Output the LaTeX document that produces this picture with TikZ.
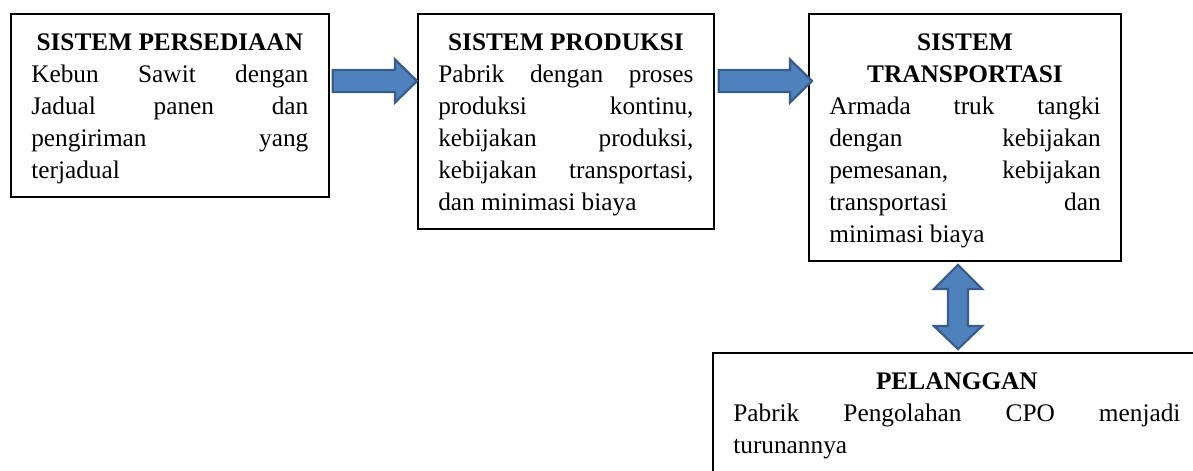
\documentclass[tikz,border=0pt]{standalone}
\usepackage{fontspec}
\setmainfont{Liberation Serif}
\usepackage{xcolor}
\usetikzlibrary{calc}

\definecolor{arrfill}{RGB}{79,129,189}
\definecolor{arrline}{RGB}{56,93,138}
\setlength{\parindent}{0pt}

\newcommand{\hd}[1]{{\centering\bfseries\rule{0pt}{17pt}#1\par}}

\tikzset{
    sysbox/.style={draw, line width=1.3pt, anchor=north west, align=justify,
        inner xsep=14.5pt, inner ysep=9pt,
        font=\fontsize{18}{22.8}\selectfont},
    blockarr/.style={draw=arrline, fill=arrfill, line width=1.6pt, line join=miter}
}

\begin{document}
\begin{tikzpicture}[x=0.025cm, y=-0.025cm]
            \useasboundingbox (0,0) rectangle (1193,470);

            \node[sysbox, text width=197pt] (sp) at (10,13) {\hd{SISTEM PERSEDIAAN}
                Kebun Sawit dengan\linebreak
                Jadual panen dan\linebreak
                pengiriman yang\linebreak
                terjadual};
            \node[sysbox, text width=181.5pt] (pr) at (417,13) {\hd{SISTEM PRODUKSI}
                Pabrik dengan proses\linebreak
                produksi kontinu,\linebreak
                kebijakan produksi,\linebreak
                kebijakan transportasi,\linebreak
                dan minimasi biaya};
            \node[sysbox, text width=193pt] (tr) at (808,13) {\hd{SISTEM\par TRANSPORTASI}
                Armada truk tangki\linebreak
                dengan kebijakan\linebreak
                pemesanan, kebijakan\linebreak
                transportasi dan\linebreak
                minimasi biaya};
            \node[sysbox, text width=318pt] (pl) at (712,352) {\hd{PELANGGAN}
                Pabrik Pengolahan CPO menjadi\linebreak
                turunannya\par\vspace*{40pt}};

            % persediaan -> produksi
            \coordinate (a1) at ($(sp.north east)+(3,68)$);
            \coordinate (b1) at (pr.west |- a1);
            \draw[blockarr] ($(a1)+(0,-11)$) -- ($(b1)+(-22,-11)$) -- ($(b1)+(-22,-21.5)$)
                -- (b1) -- ($(b1)+(-22,21.5)$) -- ($(b1)+(-22,11)$) -- ($(a1)+(0,11)$) -- cycle;

            % produksi -> transportasi
            \coordinate (a2) at ($(pr.north east)+(4,68)$);
            \coordinate (b2) at ($(tr.west |- a2)+(4,0)$);
            \draw[blockarr] ($(a2)+(0,-11)$) -- ($(b2)+(-22,-11)$) -- ($(b2)+(-22,-21.5)$)
                -- (b2) -- ($(b2)+(-22,21.5)$) -- ($(b2)+(-22,11)$) -- ($(a2)+(0,11)$) -- cycle;

            % transportasi <-> pelanggan
            \coordinate (t) at ($(tr.south west)+(150,3)$);
            \coordinate (u) at ($(t |- pl.north)+(0,-3)$);
            \draw[blockarr] (t) -- ($(t)+(24,24)$) -- ($(t)+(10,24)$) -- ($(u)+(10,-23)$)
                -- ($(u)+(24,-23)$) -- (u) -- ($(u)+(-24,-23)$) -- ($(u)+(-10,-23)$)
                -- ($(t)+(-10,24)$) -- ($(t)+(-24,24)$) -- cycle;
        \end{tikzpicture}
\end{document}
